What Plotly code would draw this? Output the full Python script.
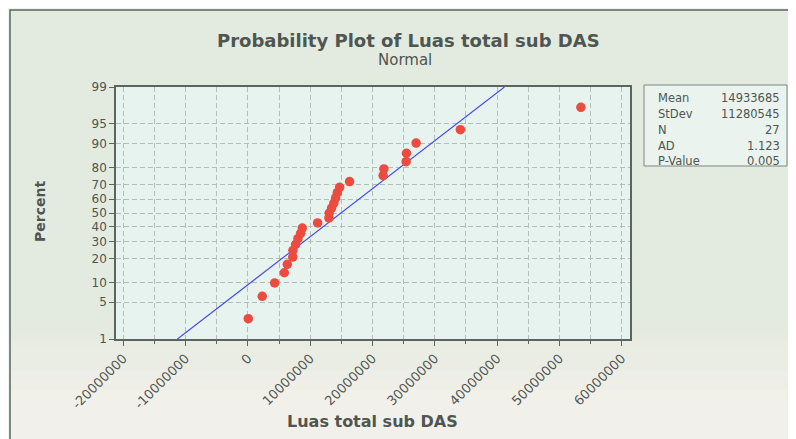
import plotly.graph_objects as go
from statistics import NormalDist

# ---- data ----
luas = [0.06e6, 2.30e6, 4.29e6, 5.84e6, 6.32e6, 7.20e6, 7.23e6, 7.66e6, 8.03e6,
        8.46e6, 8.73e6, 11.19e6, 13.00e6, 13.05e6, 13.43e6, 13.80e6, 14.08e6,
        14.35e6, 14.72e6, 16.32e6, 21.70e6, 21.83e6, 25.40e6, 25.45e6, 27.00e6,
        34.10e6, 53.45e6]
percent = [2.55, 6.20, 9.85, 13.50, 17.15, 20.80, 24.45, 28.10, 31.75, 35.40,
           39.05, 42.70, 46.35, 50.00, 53.65, 57.30, 60.95, 64.60, 68.25, 71.90,
           75.55, 79.20, 82.85, 86.50, 90.15, 93.80, 97.45]
stat_labels = ["Mean", "StDev", "N", "AD", "P-Value"]
stat_values = ["14933685", "11280545", "27", "1.123", "0.005"]
mean_val = 14933685
stdev_val = 11280545
y_tick_pct = [1, 5, 10, 20, 30, 40, 50, 60, 70, 80, 90, 95, 99]
x_tick_vals = [-20000000, -10000000, 0, 10000000, 20000000, 30000000,
               40000000, 50000000, 60000000]
x_tick_text = [str(v) for v in x_tick_vals]

nd = NormalDist()
z = lambda p: nd.inv_cdf(p / 100.0)

# the page places the figure 8px in from the top-left corner
OFF = 8
W, H = 796 - OFF, 439 - OFF
L, R, T, B = 116 - OFF, 630 - OFF, 87 - OFF, 339 - OFF   # plot area in figure pixels
def px(x):  # screenshot pixel -> paper
    return (x - OFF - L) / (R - L)
def py(y):
    return (B - (y - OFF)) / (B - T)

TXT = "#4f5652"
GRID = "#b4bdb8"
AX = "#5b6560"

fig = go.Figure()

zlo, zhi = z(1), z(99)
fig.add_trace(go.Scatter(
    x=[mean_val + stdev_val * zlo, mean_val + stdev_val * zhi], y=[zlo, zhi],
    mode="lines", line=dict(color="#4343f5", width=1.1), hoverinfo="skip"))
fig.add_trace(go.Scatter(
    x=luas, y=[z(p) for p in percent], mode="markers",
    marker=dict(color="#ec4b3f", size=9.5, line=dict(width=0))))

# background of the framed area: greenish at top, fading to beige at bottom
top_c = (0xE3, 0xEA, 0xDF)
bot_c = (0xF2, 0xF0, 0xEA)
shapes = [dict(type="rect", xref="paper", yref="paper", x0=px(10), x1=px(805),
               y0=py(320), y1=py(10), fillcolor="rgb(%d,%d,%d)" % top_c,
               line=dict(width=0), layer="below")]
nstrip = 8
for i in range(nstrip):
    y0s = 320 + i * 10
    t = (i + 0.5) / nstrip
    c = tuple(round(a + (b - a) * t) for a, b in zip(top_c, bot_c))
    shapes.append(dict(type="rect", xref="paper", yref="paper", x0=px(10),
                       x1=px(805), y0=py(y0s + 10), y1=py(y0s),
                       fillcolor="rgb(%d,%d,%d)" % c, line=dict(width=0),
                       layer="below"))
shapes.append(dict(type="rect", xref="paper", yref="paper", x0=px(10), x1=px(805),
                   y0=py(450), y1=py(400), fillcolor="rgb(%d,%d,%d)" % bot_c,
                   line=dict(width=0), layer="below"))
shapes += [
    dict(type="rect", xref="paper", yref="paper", x0=px(10), x1=px(805),
         y0=py(450), y1=py(10), line=dict(color=AX, width=1.5), layer="below"),
    dict(type="rect", xref="paper", yref="paper", x0=0, x1=1, y0=0, y1=1,
         fillcolor="#e7f3ee", line=dict(width=0), layer="below"),
    dict(type="rect", xref="paper", yref="paper", x0=px(644), x1=px(787),
         y0=py(166), y1=py(85), fillcolor="#eaf3ee",
         line=dict(color="#7d8782", width=1), layer="below"),
]

ann = [
    dict(text="<b>Probability Plot of Luas total sub DAS</b>", x=px(408), y=py(41),
         font=dict(size=18, color=TXT)),
    dict(text="Normal", x=px(405), y=py(60), font=dict(size=15, color=TXT)),
    dict(text="<b>Percent</b>", x=px(40), y=py(212), textangle=-90,
         font=dict(size=14, color=TXT)),
    dict(text="<b>Luas total sub DAS</b>", x=px(372), y=py(421),
         font=dict(size=16, color=TXT)),
]
rows_y = [98, 114, 130, 146, 161]
for lab, val, yy in zip(stat_labels, stat_values, rows_y):
    ann.append(dict(text=lab, x=px(656), y=py(yy), xanchor="left",
                    font=dict(size=11.5, color=TXT)))
    ann.append(dict(text=val, x=px(782), y=py(yy), xanchor="right",
                    font=dict(size=11.5, color=TXT)))
for a in ann:
    a.update(xref="paper", yref="paper", showarrow=False)
    a.setdefault("xanchor", "center")
    a.setdefault("yanchor", "middle")

xmin = -20000000 + (116 - 123.3) / 62.3 * 10000000
xmax = -20000000 + (630 - 123.3) / 62.3 * 10000000

fig.update_layout(
    width=W, height=H, margin=dict(l=L, r=W - R, t=T, b=H - B, pad=0),
    paper_bgcolor="#eef4ef", plot_bgcolor="rgba(0,0,0,0)",
    showlegend=False, shapes=shapes, annotations=ann,
    font=dict(family="DejaVu Sans", color=TXT),
    xaxis=dict(range=[xmin, xmax], tickvals=x_tick_vals, ticktext=x_tick_text,
               tickangle=-45, ticks="outside", ticklen=5, tickcolor=AX,
               tickfont=dict(size=13, color=TXT),
               showgrid=True, gridcolor=GRID, griddash="5px,3px", gridwidth=1,
               minor=dict(tick0=0, dtick=5000000, ticks="outside", ticklen=3,
                          tickcolor=AX, showgrid=True, gridcolor=GRID,
                          griddash="5px,3px"),
               showline=True, linecolor=AX, linewidth=1.5, mirror=True,
               zeroline=False),
    yaxis=dict(range=[zlo, zhi], tickvals=[z(p) for p in y_tick_pct],
               ticktext=[str(p) for p in y_tick_pct], ticks="outside", ticklen=5,
               tickcolor=AX, tickfont=dict(size=12, color=TXT),
               showgrid=True, gridcolor=GRID, griddash="5px,3px", gridwidth=1,
               showline=True, linecolor=AX, linewidth=1.5, mirror=True,
               zeroline=False),
)

fig.write_html("out.html")
